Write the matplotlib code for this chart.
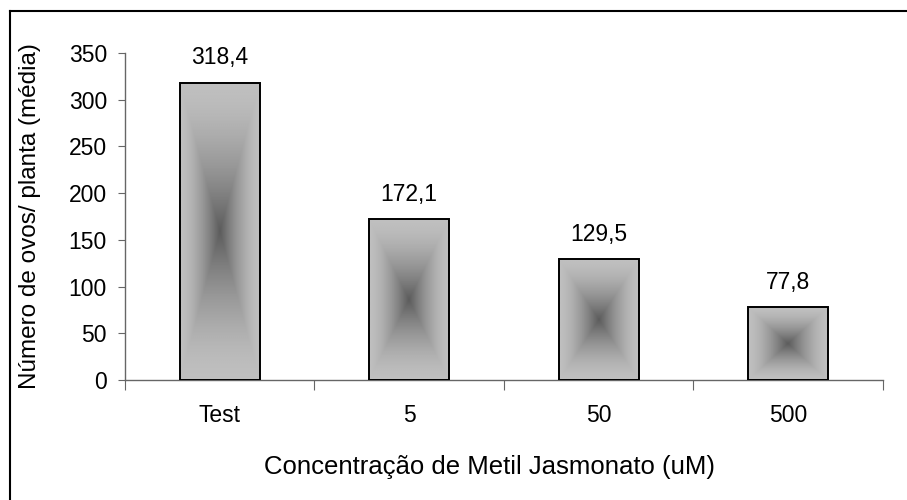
import numpy as np
import matplotlib
matplotlib.use("Agg")
import matplotlib.pyplot as plt
from matplotlib.lines import Line2D

# data
categories = ["Test", "5", "50", "500"]
values = [318.4, 172.1, 129.5, 77.8]
labels = ["318,4", "172,1", "129,5", "77,8"]
yticks = [0, 50, 100, 150, 200, 250, 300, 350]

plt.rcParams['font.family'] = ['Liberation Sans', 'DejaVu Sans']
plt.rcParams['font.size'] = 16.5

fig = plt.figure(figsize=(9.07, 5.0), dpi=100)
ax = fig.add_axes([0.1378, 0.24, 0.8357, 0.654])

x = np.arange(len(categories))
width = 0.42

# rectangular "from center" gradient for the bar fill
n = 200
gx, gy = np.meshgrid(np.linspace(-1, 1, n), np.linspace(-1, 1, n))
t = np.maximum(np.abs(gx), np.abs(gy))
light, dark = 0.75, 0.36
grad = light - (light - dark) * (1 - t) ** 1.6

bars = ax.bar(x, values, width=width, facecolor='none', edgecolor='black',
              linewidth=1.4, zorder=3)
for b in bars:
    x0, y0 = b.get_x(), b.get_y()
    ax.imshow(grad, cmap='gray', vmin=0, vmax=1, aspect='auto',
              extent=(x0, x0 + b.get_width(), y0, y0 + b.get_height()),
              interpolation='bilinear', zorder=2)

for xi, v, lab in zip(x, values, labels):
    ax.annotate(lab, (xi, v), xytext=(0, 18), textcoords='offset points',
                ha='center', va='center')

ax.set_xlim(-0.5, len(categories) - 0.5)
ax.set_ylim(0, 350)
ax.set_yticks(yticks)

ax.set_xticks(np.arange(len(categories) + 1) - 0.5)
ax.set_xticklabels([])
ax.set_xticks(x, minor=True)
ax.set_xticklabels(categories, minor=True)
ax.tick_params(axis='x', which='minor', length=0, pad=17)
ax.tick_params(axis='x', which='major', length=7, color='#666666')
ax.tick_params(axis='y', length=5, pad=8, color='#666666')

for s in ['top', 'right']:
    ax.spines[s].set_visible(False)
for s in ['left', 'bottom']:
    ax.spines[s].set_color('#666666')
    ax.spines[s].set_linewidth(1.0)

fig.text(0.033, 0.568, "Número de ovos/ planta (média)", rotation=90,
         ha='center', va='center', fontsize=17.5)
fig.text(0.54, 0.066, "Concentração de Metil Jasmonato (uM)",
         ha='center', va='center', fontsize=18.5)

# chart frame (only top and left edges visible in the crop)
fig.add_artist(Line2D([0.011, 1.0], [0.979, 0.979], color='black', lw=1.5,
                      transform=fig.transFigure))
fig.add_artist(Line2D([0.011, 0.011], [0.0, 0.979], color='black', lw=1.5,
                      transform=fig.transFigure))

fig.savefig("out.png", dpi=100)
